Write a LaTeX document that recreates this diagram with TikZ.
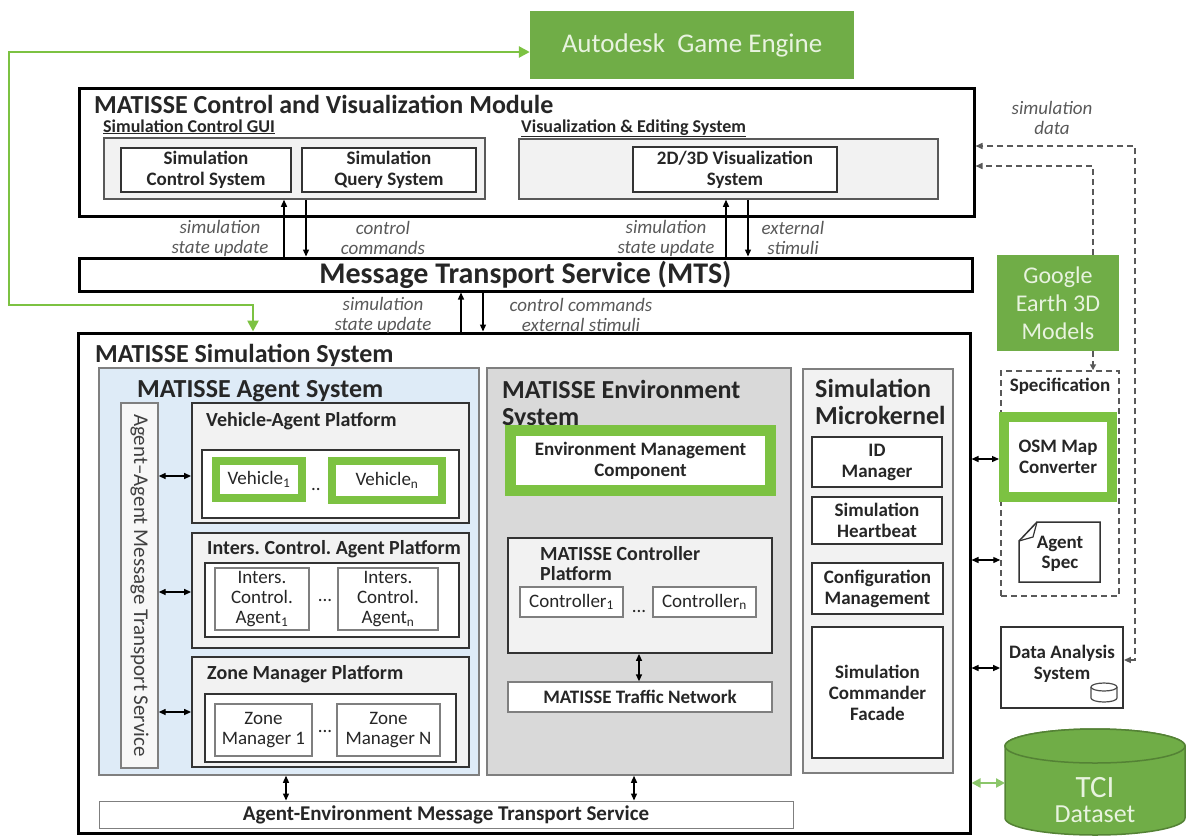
\documentclass[tikz,border=0pt]{standalone}
\usepackage{fontspec}
\setmainfont{Carlito}
\usetikzlibrary{arrows.meta}
\frenchspacing
\definecolor{gfill}{HTML}{70AD47}
\definecolor{gline}{HTML}{7CC242}
\definecolor{garrow}{HTML}{8BC66A}
\definecolor{gtext}{HTML}{E8F3DF}
\definecolor{gdark}{HTML}{548235}
\definecolor{lblue}{HTML}{DEEBF7}
\definecolor{lgrey}{HTML}{F2F2F2}
\definecolor{mgrey}{HTML}{D9D9D9}
\definecolor{dgrey}{HTML}{595959}
\definecolor{bgrey}{HTML}{7F7F7F}
\definecolor{txt}{HTML}{262626}
\newcommand{\bx}[7]{\node[#1, minimum width={(#5-#3)*1pt}, minimum height={(#6-#4)*1pt}, inner sep=0pt] (#2) at ({(#3+#5)/2},{(#4+#6)/2}) {#7};}
\newcommand{\sbs}[1]{\textsubscript{#1}}
\tikzset{
 heavybox/.style={draw=black, line width=3pt, fill=white},
 platbox/.style={draw=black!80, line width=1.8pt, fill=lgrey},
 whitebox/.style={draw=black!80, line width=1.8pt, fill=white},
 outerbox/.style={draw=bgrey, line width=1.5pt},
 compbox/.style={draw=bgrey, line width=1.3pt, fill=white, font=\fontsize{19}{20}\selectfont, text=txt, align=center},
 mkbox/.style={draw=black!80, line width=1.8pt, fill=white, font=\bfseries\fontsize{19}{21}\selectfont, align=center, text=txt},
 greenbox/.style={draw=gline, fill=white, text=txt, align=center},
 gbox/.style={fill=gfill, draw=none, text=gtext, align=center},
 title/.style={font=\bfseries\fontsize{26}{27}\selectfont, text=txt, anchor=base west, inner sep=0pt, align=left},
 sub/.style={font=\bfseries\fontsize{20}{22}\selectfont, text=txt, anchor=base west, inner sep=0pt, align=left},
 lbl/.style={font=\itshape\fontsize{19}{20}\selectfont, text=dgrey, align=center},
 arr/.style={line width=1.3pt, -{Triangle[length=7pt,width=6pt]}},
 darr/.style={line width=1.3pt, {Triangle[length=7pt,width=6pt]}-{Triangle[length=7pt,width=6pt]}},
 dline/.style={draw=dgrey, line width=1.5pt, dash pattern=on 6pt off 4pt},
 dots/.style={font=\fontsize{19}{20}\selectfont, text=txt, inner sep=0pt},
}
\begin{document}
\begin{tikzpicture}[x=1pt,y=-1pt]
\useasboundingbox (0,0) rectangle (1186,836);

% ---------- Autodesk
\bx{gbox, font=\fontsize{27}{28}\selectfont}{auto}{530}{11}{854}{79}{Autodesk\ \ Game Engine}

% ---------- Control and visualization module
\bx{heavybox}{ctrl}{79}{88}{974}{216}{}
\node[title] (ctrlt) at (94,113) {MATISSE Control and Visualization Module};
\node[sub, font=\bfseries\fontsize{18}{20}\selectfont] (guit) at (103,132) {\underline{Simulation Control GUI}};
\node[sub, font=\bfseries\fontsize{18}{20}\selectfont] (vist) at (521,132) {\underline{Visualization \& Editing System}};
\bx{draw=dgrey, line width=1.5pt, fill=lgrey}{gui}{104}{138}{485}{199}{}
\bx{mkbox}{scs}{121}{148}{291}{192}{Simulation\\Control System}
\bx{mkbox}{sqs}{302}{148}{476}{192}{Simulation\\Query System}
\bx{draw=dgrey, line width=1.5pt, fill=lgrey}{vis}{519}{139}{938}{199}{}
\bx{mkbox}{v23}{633}{147}{837}{192}{2D/3D Visualization\\System}

% ---------- MTS
\bx{heavybox, font=\bfseries\fontsize{30}{32}\selectfont, text=txt}{mts}{79}{258}{972}{291}{Message Transport Service (MTS)}

\draw[arr] (284,0 |- mts.north) -- (284,0 |- gui.south);
\draw[arr] (306,0 |- gui.south) -- (306,0 |- mts.north);
\draw[arr] (726,0 |- mts.north) -- (726,0 |- vis.south);
\draw[arr] (748,0 |- vis.south) -- (748,0 |- mts.north);
\node[lbl] (l1) at (220,238) {simulation\\state update};
\node[lbl] (l2) at (383,238) {control\\commands};
\node[lbl] (l3) at (666,238) {simulation\\state update};
\node[lbl] (l4) at (793,238) {external\\stimuli};

% ---------- Simulation system
\bx{heavybox}{sim}{78}{333}{970}{833}{}
\node[title] (simt) at (95,362) {MATISSE Simulation System};
\draw[arr] (461,0 |- sim.north) -- (461,0 |- mts.south);
\draw[arr] (483,0 |- mts.south) -- (483,0 |- sim.north);
\node[lbl] (l5) at (383,315) {simulation\\state update};
\node[lbl] (l6) at (581,315) {control commands\\external stimuli};

% green link Autodesk <-> simulation system
\draw[draw=gline, line width=2.5pt, {Triangle[length=11pt,width=11pt]}-{Triangle[length=11pt,width=11pt]}]
  ([yshift=-7pt]auto.west) -- (9,52) -- (9,305) -- (253,305) -- (253,0 |- sim.north);

% ---------- Agent system
\bx{outerbox, fill=lblue}{agent}{99}{368}{479}{775}{}
\node[title] (agentt) at (137,397) {MATISSE Agent System};
\bx{draw=bgrey, line width=1.3pt, fill=lgrey!60}{aamts}{121}{403}{158}{768}{}
\node[rotate=-90, font=\fontsize{21}{22}\selectfont, text=black!75] (aamtst) at (aamts.center) {Agent--Agent Message Transport Service};

\bx{platbox}{vap}{192}{403}{469}{523}{}
\node[sub] (vapt) at (206,426) {Vehicle-Agent Platform};
\bx{whitebox}{vapi}{202}{450}{459}{518}{}
\bx{greenbox, line width=8pt, font=\fontsize{19}{20}\selectfont}{veh1}{216}{461}{302}{498}{Vehicle\sbs{1}}
\node[dots] (vdots) at (316,489) {..};
\bx{greenbox, line width=8pt, font=\fontsize{19}{20}\selectfont}{vehn}{332}{461}{442}{500}{Vehicle\sbs{n}}

\bx{platbox}{icp}{192}{533}{469}{648}{}
\node[sub] (icpt) at (207,554) {Inters. Control. Agent Platform};
\bx{whitebox}{icpi}{205}{563}{459}{637}{}
\bx{compbox}{ica1}{215}{568}{309}{630}{Inters.\\Control.\\Agent\sbs{1}}
\node[dots] (idots) at (325,600) {...};
\bx{compbox}{ican}{338}{568}{438}{630}{Inters.\\Control.\\Agent\sbs{n}}

\bx{platbox}{zmp}{192}{657}{469}{767}{}
\node[sub] (zmpt) at (207,679) {Zone Manager Platform};
\bx{whitebox}{zmpi}{205}{694}{456}{762}{}
\bx{compbox}{zm1}{215}{704}{312}{756}{Zone\\Manager 1}
\node[dots] (zdots) at (325,731) {...};
\bx{compbox}{zmn}{337}{704}{440}{756}{Zone\\Manager N}

\draw[darr] (aamts.east |- 0,476) -- (vap.west |- 0,476);
\draw[darr] (aamts.east |- 0,592) -- (icp.west |- 0,592);
\draw[darr] (aamts.east |- 0,712) -- (zmp.west |- 0,712);

% ---------- Environment system
\bx{outerbox, fill=mgrey}{env}{487}{368}{791}{775}{}
\node[title] (envt) at (502,425) {MATISSE Environment\\System};
\bx{greenbox, line width=11pt, font=\bfseries\fontsize{19}{21}\selectfont}{emc}{510.5}{430.5}{770.5}{490.5}{Environment Management\\Component}
\bx{platbox}{ctp}{508}{538}{772}{653}{}
\node[sub, font=\bfseries\fontsize{20}{20}\selectfont] (ctpt) at (540,580) {MATISSE Controller\\Platform};
\bx{compbox}{c1}{520}{587}{623}{617}{Controller\sbs{1}}
\node[dots] (cdots) at (639,611) {...};
\bx{compbox}{cn}{653}{587}{756}{617}{Controller\sbs{n}}
\bx{compbox, font=\bfseries\fontsize{19}{20}\selectfont}{tn}{508}{682}{772}{712}{MATISSE Traffic Network}
\draw[darr] (639,0 |- ctp.south) -- (639,0 |- tn.north);

% ---------- Microkernel
\bx{outerbox, fill=lgrey}{mk}{803}{369}{953}{773}{}
\node[title] (mkt) at (815,424) {Simulation\\Microkernel};
\bx{mkbox}{idm}{812}{437}{942}{487}{ID\\Manager}
\bx{mkbox}{hb}{812}{497}{942}{544}{Simulation\\Heartbeat}
\bx{mkbox}{cfg}{812}{563}{943}{614}{Configuration\\Management}
\bx{mkbox}{fac}{812}{627}{943}{758}{Simulation\\Commander\\Facade}

% ---------- bottom bar
\bx{draw=bgrey, line width=1pt, fill=white, font=\bfseries\fontsize{21}{22}\selectfont, text=txt}{aemts}{99}{801}{793}{828}{Agent-Environment Message Transport Service}
\draw[darr] (286,0 |- agent.south) -- (286,0 |- aemts.north);
\draw[darr] (634,0 |- env.south) -- (634,0 |- aemts.north);

% ---------- right side
\bx{gbox, font=\fontsize{24}{28}\selectfont}{gem}{997}{255}{1119}{351}{Google\\Earth 3D\\Models}
\bx{dline}{spec}{1001}{371}{1119}{596}{}
\node[font=\bfseries\fontsize{19}{20}\selectfont, text=txt] (spect) at (1060,386) {Specification};
\bx{greenbox, line width=10pt, font=\bfseries\fontsize{19}{21}\selectfont}{osm}{1004}{417}{1112}{497}{OSM Map\\Converter}
\draw[line width=1.5pt, draw=black!80, fill=white] (1037,522) -- (1100,522) -- (1100,582) -- (1019,582) -- (1019,541) -- cycle;
\draw[line width=1.2pt, draw=black!80] (1019,541) -- (1033,537) -- (1037,522);
\node[font=\bfseries\fontsize{19}{20}\selectfont, text=txt, align=center] (aspec) at (1060,554) {Agent\\Spec};
\bx{whitebox}{das}{1001}{627}{1123}{708}{}
\node[font=\bfseries\fontsize{19}{21}\selectfont, text=txt, align=center] (dast) at (1062,664) {Data Analysis\\System};
\draw[line width=1.2pt, draw=black!70] (1091,687) -- (1091,698) arc[start angle=180,end angle=0,x radius=13,y radius=4] -- (1117,687);
\draw[line width=1.2pt, draw=black!70] (1104,687) ellipse[x radius=13,y radius=4];

% TCI dataset cylinder
\draw[draw=gdark, line width=1.5pt, fill=gfill] (1005,746) -- (1005,818) arc[start angle=180,end angle=0,x radius=90,y radius=17] -- (1185,746) arc[start angle=0,end angle=-180,x radius=90,y radius=17] -- cycle;
\draw[draw=gdark, line width=1.5pt, fill=gfill] (1095,746) ellipse[x radius=90,y radius=17];
\node[font=\fontsize{31}{32}\selectfont, text=gtext] (tci) at (1095,788) {TCI};
\node[font=\fontsize{26}{27}\selectfont, text=gtext] (tcid) at (1095,814) {Dataset};
\coordinate (tciw) at (1005,783);

% right-side connectors
\draw[darr] (sim.east |- 0,459) -- (osm.west |- 0,459);
\draw[darr] (sim.east |- 0,560) -- (spec.west |- 0,560);
\draw[darr] (sim.east |- 0,668) -- (das.west |- 0,668);
\draw[draw=garrow, line width=2.5pt, {Triangle[length=9pt,width=9pt]}-{Triangle[length=9pt,width=9pt]}] (sim.east |- tciw) -- (tciw);

\draw[dline, {Triangle[length=7pt,width=6pt]}-{Triangle[length=7pt,width=6pt]}] (das.east |- 0,660) -- (1135,660) -- (1135,146) -- (ctrl.east |- 0,146);
\draw[dline, -{Triangle[length=7pt,width=6pt]}] (1093,0 |- gem.north) -- (1093,166) -- (ctrl.east |- 0,166);
\draw[dline, -{Triangle[length=6pt,width=6pt]}] (1093,0 |- gem.south) -- (1093,0 |- spec.north);
\node[lbl] (l7) at (1052,118) {simulation\\data};
\end{tikzpicture}
\end{document}
